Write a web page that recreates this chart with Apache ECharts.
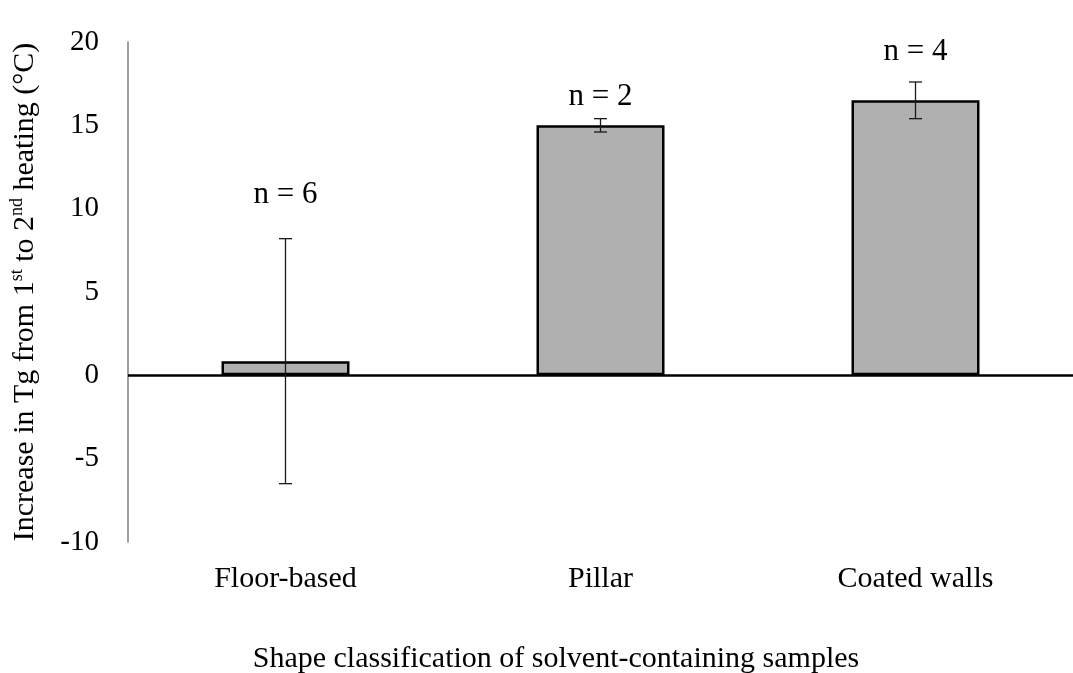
<!DOCTYPE html>
<html>
<head>
<meta charset="utf-8">
<script src="https://cdn.jsdelivr.net/npm/echarts@6/dist/echarts.min.js"></script>
<style>
  html, body { margin: 0; padding: 0; background: #fff; }
  #chart { width: 1073px; height: 673px; }
</style>
</head>
<body>
<div id="chart"></div>
<script>
// Mean increase in Tg between the 1st and 2nd heating, by sample shape
const categories = ['Floor-based', 'Pillar', 'Coated walls'];
const meanIncrease = [0.85, 15.0, 16.5];
const errLow = [-6.5, 14.6, 15.4];
const errHigh = [8.2, 15.4, 17.6];
const sampleCounts = [6, 2, 4];
// height (in °C) at which each "n = …" note sits
const countLabelAt = [10.8, 16.7, 19.4];

const serif = '"Liberation Serif", "Times New Roman", serif';

const chart = echarts.init(document.getElementById('chart'));

chart.setOption({
  backgroundColor: '#ffffff',
  animation: false,
  textStyle: { fontFamily: serif, color: '#000' },
  grid: { left: 126, top: 42, height: 500, width: 960, containLabel: false },
  xAxis: {
    type: 'category',
    data: categories,
    axisLine: { show: false, onZero: false },
    axisTick: { show: false },
    axisLabel: { fontSize: 30, color: '#000', fontFamily: serif, margin: 22 },
    splitLine: { show: false }
  },
  yAxis: {
    type: 'value',
    min: -10,
    max: 20,
    interval: 5,
    axisLine: { show: true, lineStyle: { color: '#7f7f7f', width: 1.5 } },
    axisTick: { show: false },
    splitLine: { show: false },
    axisLabel: { fontSize: 29, color: '#000', fontFamily: serif, margin: 29 },
    name: '{m|Increase in Tg from 1}{s|st}{m| to 2}{s|nd}{m| heating (°C)}',
    nameLocation: 'middle',
    nameGap: 86,
    nameTextStyle: {
      rich: {
        m: { fontSize: 30, fontFamily: serif, color: '#000', lineHeight: 34 },
        s: { fontSize: 18, fontFamily: serif, color: '#000', lineHeight: 18, verticalAlign: 'top' }
      }
    }
  },
  graphic: [{
    type: 'text',
    x: 556,
    y: 659,
    style: {
      text: 'Shape classification of solvent-containing samples',
      fontSize: 30,
      fontFamily: serif,
      fill: '#000',
      align: 'center',
      verticalAlign: 'middle'
    }
  }],
  series: [
    {
      type: 'bar',
      data: meanIncrease,
      barWidth: 128,
      itemStyle: { color: '#b0b0b0', borderColor: '#000', borderWidth: 2.5 },
      markLine: {
        silent: true,
        symbol: 'none',
        label: { show: false },
        lineStyle: { color: '#000', width: 2.5, type: 'solid' },
        data: [{ yAxis: 0 }]
      },
      z: 2
    },
    {
      // error bars
      type: 'custom',
      z: 5,
      data: categories.map((c, i) => [i, errLow[i], errHigh[i]]),
      renderItem: function (params, api) {
        const i = api.value(0);
        const lo = api.coord([i, api.value(1)]);
        const hi = api.coord([i, api.value(2)]);
        const cap = 6.5;
        const style = { stroke: '#1a1a1a', lineWidth: 1.3 };
        return {
          type: 'group',
          children: [
            { type: 'line', shape: { x1: hi[0], y1: hi[1], x2: lo[0], y2: lo[1] }, style },
            { type: 'line', shape: { x1: hi[0] - cap, y1: hi[1], x2: hi[0] + cap, y2: hi[1] }, style },
            { type: 'line', shape: { x1: lo[0] - cap, y1: lo[1], x2: lo[0] + cap, y2: lo[1] }, style }
          ]
        };
      }
    },
    {
      // sample count notes
      type: 'custom',
      z: 6,
      data: categories.map((c, i) => [i, countLabelAt[i], sampleCounts[i]]),
      renderItem: function (params, api) {
        const p = api.coord([api.value(0), api.value(1)]);
        return {
          type: 'text',
          x: p[0],
          y: p[1],
          style: {
            text: 'n = ' + api.value(2),
            fontSize: 31,
            fontFamily: serif,
            fill: '#000',
            align: 'center',
            verticalAlign: 'middle'
          }
        };
      }
    }
  ]
});
</script>
</body>
</html>
